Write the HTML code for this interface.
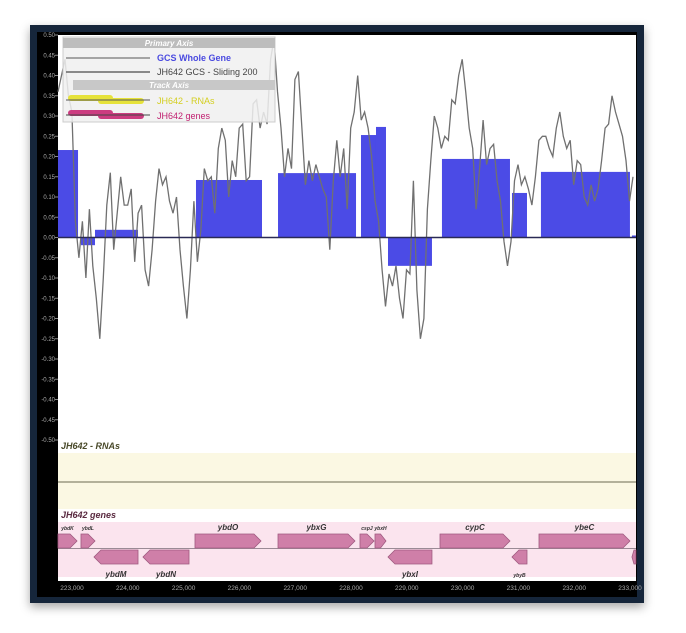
<!DOCTYPE html>
<html><head><meta charset="utf-8">
<style>
body{margin:0;background:#fff;width:686px;height:633px;overflow:hidden;font-family:"Liberation Sans",sans-serif}
svg{position:absolute;left:0;top:0}
</style></head><body>
<svg id="chart" width="686" height="633" xmlns="http://www.w3.org/2000/svg">
<defs><filter id="sh" x="-10%" y="-10%" width="120%" height="120%"><feDropShadow dx="0" dy="4" stdDeviation="5" flood-color="#000" flood-opacity="0.35"/></filter></defs>
<rect x="30" y="25" width="614" height="578" fill="#17283a" filter="url(#sh)"/>
<rect x="37" y="32" width="600" height="565" fill="#000"/>
<rect x="58" y="35" width="578" height="546" fill="#fff"/>
<rect x="58" y="453" width="578" height="56" fill="#fbf8e3"/>
<line x1="58" y1="482" x2="636" y2="482" stroke="#6b6a50" stroke-width="1"/>
<text x="61" y="449" font-size="9" font-style="italic" font-weight="bold" fill="#4a4a2a">JH642 - RNAs</text>
<rect x="58" y="522" width="578" height="55" fill="#fbe4ee"/>
<line x1="58" y1="548.5" x2="636" y2="548.5" stroke="#9a8a95" stroke-width="1"/>
<text x="61" y="518" font-size="9" font-style="italic" font-weight="bold" fill="#5a2a40">JH642 genes</text>
<g id="yaxis"></g><g id="xaxis"></g>
<g id="bars"></g>
<path id="gcline" fill="none" stroke="#707070" stroke-width="1.3"/>
<line x1="58" y1="237.5" x2="636" y2="237.5" stroke="#2a2a55" stroke-width="1.5"/>
<g id="genes"></g>
<g>
<rect x="63" y="37" width="212" height="85" fill="#f0f0f0" fill-opacity="0.85" stroke="#ccc"/>
<rect x="63" y="38" width="212" height="10" fill="#bdbdbd"/>
<text x="169" y="46" font-size="8" font-style="italic" font-weight="bold" fill="#fff" text-anchor="middle">Primary Axis</text>
<line x1="66" y1="58" x2="150" y2="58" stroke="#555" stroke-width="1"/>
<text x="157" y="61" font-size="9" font-weight="bold" fill="#4a4ae0">GCS Whole Gene</text>
<line x1="66" y1="72" x2="150" y2="72" stroke="#666" stroke-width="1.5"/>
<text x="157" y="75" font-size="9" fill="#444">JH642 GCS - Sliding 200</text>
<rect x="73" y="80" width="202" height="10" fill="#c8c8c8"/>
<text x="169" y="88" font-size="8" font-style="italic" font-weight="bold" fill="#fff" text-anchor="middle">Track Axis</text>
<rect x="68" y="95" width="45" height="6" rx="3" fill="#e6e23a"/><rect x="98" y="98" width="46" height="6" rx="3" fill="#e6e23a"/>
<line x1="66" y1="100" x2="150" y2="100" stroke="#555"/>
<text x="157" y="104" font-size="9" fill="#d4cf20">JH642 - RNAs</text>
<rect x="68" y="110" width="45" height="6" rx="3" fill="#cc3c80"/><rect x="98" y="113" width="46" height="6" rx="3" fill="#cc3c80"/>
<line x1="66" y1="115" x2="150" y2="115" stroke="#444"/>
<text x="157" y="119" font-size="9" fill="#c02070">JH642 genes</text>
</g>
</svg>
<script>
const yTicks=[0.5,0.45,0.4,0.35,0.3,0.25,0.2,0.15,0.1,0.05,0,-0.05,-0.1,-0.15,-0.2,-0.25,-0.3,-0.35,-0.4,-0.45,-0.5];
const xTicks=[223000,224000,225000,226000,227000,228000,229000,230000,231000,232000,233000];
const barStarts=[222749,223161,223412,225222,226692,228179,228448,228663,229630,230885,231404,233035];
const barEnds=[223108,223412,224183,226405,228090,228448,228627,229451,230849,231154,232999,233107];
const barValues=[0.216,-0.019,0.019,0.142,0.159,0.253,0.273,-0.07,0.194,0.11,0.162,0.005];
const lineStart=222749, lineEnd=233053;
const lineValues=[0.36,0.40,0.44,0.35,0.31,0.04,-0.05,0.04,-0.10,0.07,-0.07,-0.15,-0.25,-0.10,0.08,0.16,-0.03,0.06,0.15,0.08,0.08,0.12,-0.06,0.06,0.08,-0.08,-0.12,-0.03,0.09,0.17,0.13,0.15,0.09,0.06,0.10,-0.03,-0.12,-0.20,-0.08,0.09,-0.06,0.02,0.17,0.14,0.15,0.06,0.22,0.27,0.24,0.10,0.19,0.15,0.27,0.28,0.14,0.15,0.33,0.34,0.27,0.31,0.28,0.44,0.49,0.36,0.27,0.15,0.22,0.17,0.39,0.41,0.27,0.13,0.19,0.14,0.18,0.15,0.12,0.10,-0.03,0.14,0.24,0.15,0.22,0.07,0.27,0.31,0.40,0.29,0.31,0.27,0.20,0.09,0.04,-0.08,-0.17,-0.09,-0.12,-0.07,-0.15,-0.20,-0.08,-0.09,0.14,-0.13,-0.25,-0.20,0.07,0.19,0.30,0.27,0.22,0.25,0.24,0.34,0.33,0.40,0.44,0.36,0.27,0.22,0.07,0.17,0.29,0.18,0.22,0.23,0.14,0.09,-0.01,-0.07,-0.01,0.14,0.18,0.13,0.15,0.12,0.08,0.15,0.24,0.25,0.25,0.22,0.20,0.27,0.31,0.25,0.22,0.24,0.13,0.19,0.18,0.10,0.08,0.13,0.09,0.12,0.19,0.27,0.28,0.35,0.31,0.28,0.25,0.19,0.09,0.15];
const geneNames=["ybdK","ybdL","ybdM","ybdN","ybdO","ybxG","cspJ","ybxH","ybxI","cypC","ybyB","ybeC",""];
const geneStarts=[222749,223161,223394,224272,225204,226692,228161,228430,228663,229595,230885,231369,233035];
const geneEnds=[223090,223412,224183,225097,226387,228071,228412,228627,229451,230849,231154,232999,233107];
const geneStrands=[1,1,-1,-1,1,1,1,1,-1,1,-1,1,-1];

const X=g=>72+(g-223000)*55.8/1000;
const Y=v=>237.5-v*405;
const NS="http://www.w3.org/2000/svg";
function mk(t,a,p){const e=document.createElementNS(NS,t);for(const k in a)e.setAttribute(k,a[k]);p.appendChild(e);return e;}
const ya=document.getElementById('yaxis');
yTicks.forEach(v=>{
 const t=mk('text',{x:55,y:Y(v)+2,'font-size':6,fill:'#aaa','text-anchor':'end'},ya);
 
 
 t.textContent=v.toFixed(2);
 mk('line',{x1:55,x2:58,y1:Y(v),y2:Y(v),stroke:'#888'},ya);
});
const xa=document.getElementById('xaxis');
xTicks.forEach(g=>{
 const t=mk('text',{x:X(g),y:590,'font-size':6.5,fill:'#aaa','text-anchor':'middle'},xa);
 
 
 t.textContent=g.toLocaleString('en-US');
});
const bg=document.getElementById('bars');
barValues.forEach((v,i)=>{
 const x1=X(barStarts[i]),x2=Math.min(X(barEnds[i]),636);
 const r=mk('rect',{x:x1,y:Math.min(Y(v),Y(0)),width:x2-x1,height:Math.abs(Y(v)-Y(0)),fill:'#4b4be6'},bg);
 
 
});
const n=lineValues.length;
let d='';
lineValues.forEach((v,i)=>{const g=lineStart+(lineEnd-lineStart)*i/(n-1);d+=(i?'L':'M')+X(g).toFixed(1)+','+Math.max(35,Y(v)).toFixed(1);});
document.getElementById('gcline').setAttribute('d',d);
const gg=document.getElementById('genes');
geneNames.forEach((nm,i)=>{
 let x1=Math.max(58,X(geneStarts[i])),x2=Math.min(636,X(geneEnds[i]));
 const fwd=geneStrands[i]>0;
 const y1=fwd?534:550,y2=fwd?548:564,ym=(y1+y2)/2,hd=Math.min(7,(x2-x1)/2);
 const pts=fwd?`${x1},${y1} ${x2-hd},${y1} ${x2},${ym} ${x2-hd},${y2} ${x1},${y2}`:`${x1+hd},${y1} ${x2},${y1} ${x2},${y2} ${x1+hd},${y2} ${x1},${ym}`;
 const p=mk('polygon',{points:pts,fill:'#cf7fa8',stroke:'#a05a80','stroke-width':0.8},gg);
 
 
 if(nm){
  const small=(x2-x1)<20;
  const t=mk('text',{x:(x1+x2)/2,y:fwd?530:577,'font-size':small?5:8,'font-style':'italic','font-weight':'bold',fill:'#333','text-anchor':'middle'},gg);
  
  
  t.textContent=nm;
 }
});
</script>
</body></html>
